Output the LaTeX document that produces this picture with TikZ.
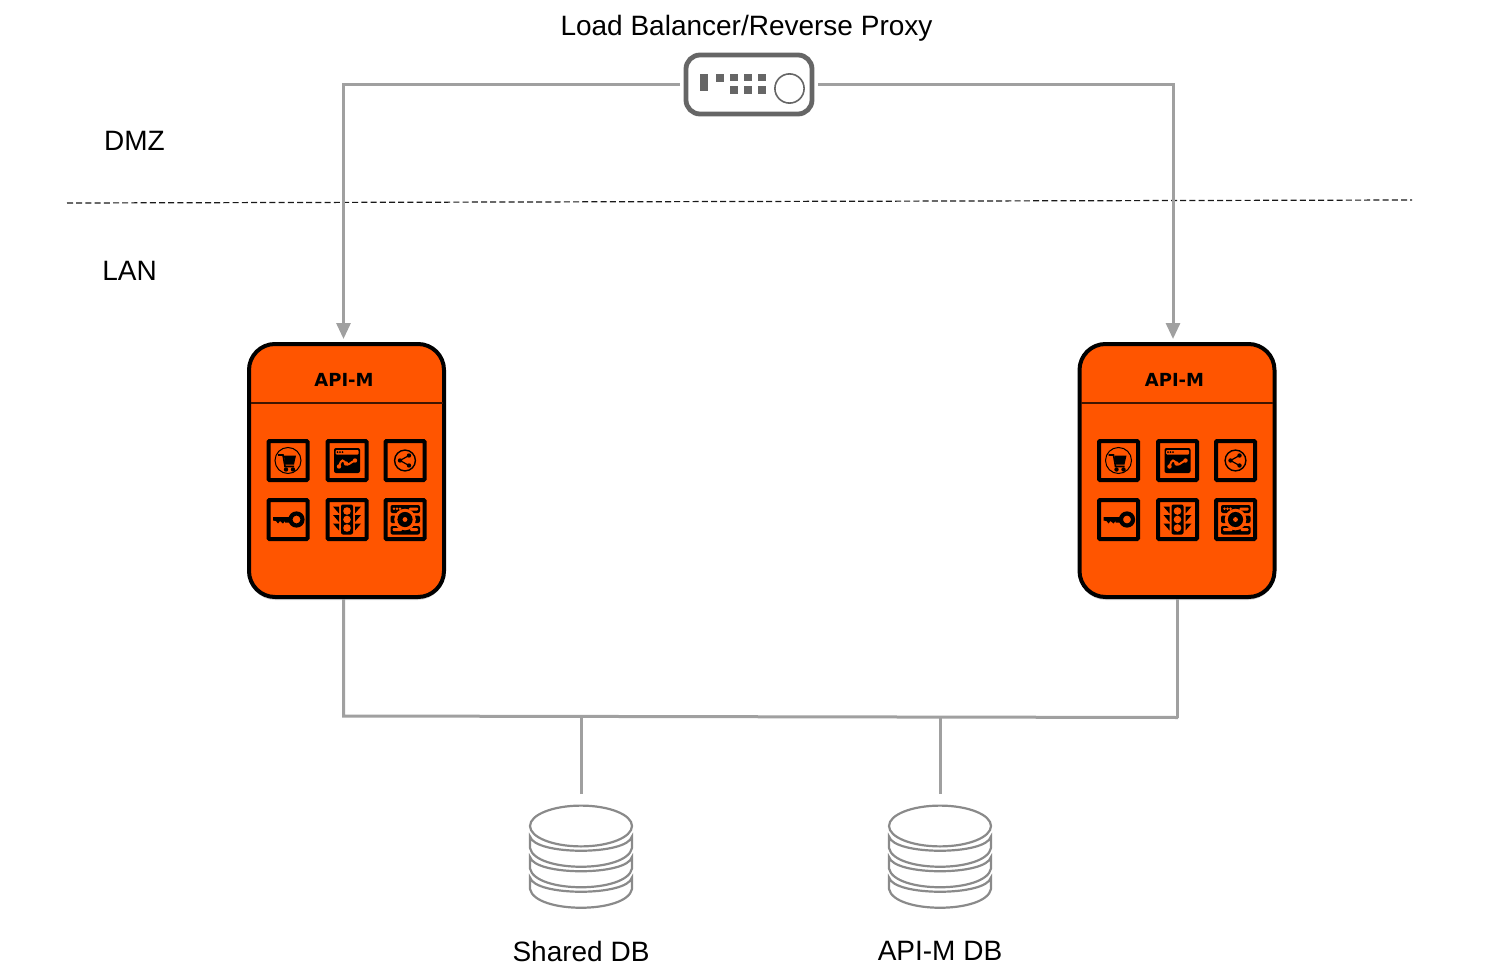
\documentclass[tikz,border=0pt]{standalone}
\usepackage{fontspec}
\setmainfont{Liberation Sans}
\newfontfamily\boxfont{DejaVu Sans}
\usetikzlibrary{
    arrows.meta,
    shadows,
    calc
}
\definecolor{apiorange}{HTML}{FF5500}
\definecolor{wiregray}{HTML}{A0A0A0}
\definecolor{dbgray}{HTML}{8A8A8A}
\definecolor{lbgray}{HTML}{666666}
\tikzset{
    label text/.style={font=\fontsize{14}{16}\selectfont, inner sep=0pt},
    wire/.style={draw=wiregray, line width=1.5pt},
    feed/.style={wire, -{Triangle[length=8pt,width=7pt]}},
    apibox/.style={draw=black, line width=2pt, fill=apiorange, rounded corners=13pt,
        minimum width=195pt/2, minimum height=253pt/2, outer sep=2.5pt, inner sep=0pt,
        drop shadow={opacity=.3, shadow xshift=0pt, shadow yshift=-1.5pt}},
    lbbox/.style={draw=lbgray, line width=2.4pt, rounded corners=7pt, fill=white,
        minimum width=63pt, minimum height=29.5pt, outer sep=3pt, inner sep=0pt},
    dbnode/.style={minimum width=51pt, minimum height=52pt, outer sep=5.5pt, inner sep=0pt},
    iconframe/.style={draw=black, line width=2pt, rounded corners=.5pt},
    dbline/.style={draw=dbgray, line width=1.1pt, fill=white},
    pics/iconcart/.style={code={
        \draw[black, line width=.5pt] (0,0) circle (6.5pt);
        \fill[black] (-4,-5) -- (8,-5) -- (6,4) -- (-3,4) -- cycle;
        \draw[black, line width=.8pt] (-10,-5.5) -- (-5,-5.5) -- (-3,6) -- (6,6);
        \fill[black] (-2,9) circle (1.1pt) (5,9) circle (1.1pt);
    }},
    pics/iconchart/.style={code={
        \fill[black, rounded corners=1pt] (-13,-12.5) rectangle (13,12.5);
        \fill[apiorange, rounded corners=.5pt] (-11.5,-10.5) rectangle (11.5,-6);
        \foreach \dx in {-9.5,-7,-4.5}
            \fill[black] (\dx,-8.3) circle (.5pt);
        \draw[apiorange, line width=1pt] (-8,6) .. controls (-5,-3) and (-4,0) .. (-1,3)
            .. controls (1,6) and (3,2) .. (8,0);
        \fill[apiorange] (-8,6) circle (1.1pt) (-1,3) circle (1.1pt) (8,0) circle (1.1pt);
    }},
    pics/iconshare/.style={code={
        \draw[black, line width=.7pt] (0,0) circle (5.2pt);
        \draw[black, line width=.6pt] (4,-5) -- (-5,0) -- (4,5);
        \fill[black] (-5,0) circle (1.1pt) (4,-5) circle (1.1pt) (4,5) circle (1.1pt);
    }},
    pics/iconkey/.style={code={
        \draw[black, line width=2.1pt] (8.5,0) circle (3pt);
        \fill[black] (-15,-2.5) -- (3,-2.5) -- (3,3) -- (-3,3) -- (-3,1.5) -- (-5,4) -- (-8,1.5) -- (-10,4)
            -- (-12,1.5) -- (-15,1) -- cycle;
    }},
    pics/iconlight/.style={code={
        \fill[black, rounded corners=1pt] (-6,-15) rectangle (6,15);
        \foreach \dy in {-8.5,0,8.5} {
            \fill[apiorange] (0,\dy) circle (1.9pt);
            \fill[black] (-8,\dy-4.5) -- (-14,\dy-4.5) -- (-8,\dy+2.5) -- cycle;
            \fill[black] (8,\dy-4.5) -- (14,\dy-4.5) -- (8,\dy+2.5) -- cycle;
        }
    }},
    pics/iconserver/.style={code={
        \fill[black, rounded corners=1pt] (-14.5,-14.5) rectangle (15,-6.5);
        \fill[black, rounded corners=1pt] (-14.5,6.5) rectangle (15,15);
        \fill[black, rounded corners=1pt] (-14.5,-4) rectangle (-8,3.5);
        \fill[black, rounded corners=1pt] (8.5,-4) rectangle (15,3.5);
        \foreach \dx in {-11,-8,-5}
            \fill[apiorange] (\dx,-10.7) circle (.7pt);
        \fill[apiorange, rounded corners=.5pt] (4,-12) rectangle (13,-9);
        \fill[apiorange, rounded corners=.5pt] (-12.5,8.7) rectangle (-3,11.5);
        \fill[apiorange, rounded corners=.5pt] (5,8.7) rectangle (13,11.5);
        \fill[apiorange] (0,0) circle (5.4pt);
        \fill[black] (0,0) circle (3.8pt);
        \fill[apiorange] (0,0) circle (1.2pt);
    }},
    pics/apiface/.style={code={
        \node[font=\boxfont\bfseries\fontsize{9}{10}\selectfont, inner sep=0pt] (title) at (-2.5,-90.5) {API-M};
        \draw[black!75!apiorange, line width=.6pt] (-96,-67.5) -- (96,-67.5);
        \foreach \ix/\iy/\ic in {-58.5/-10/iconcart, 0.5/-10/iconchart, 58.5/-10/iconshare,
                                 -58.5/49/iconkey, 0.5/49/iconlight, 58.5/49/iconserver} {
            \draw[iconframe] (\ix-19.5,\iy-19.5) rectangle (\ix+19.5,\iy+19.5);
            \pic at (\ix,\iy) {\ic};
        }
    }},
    pics/lbface/.style={code={
        \fill[lbgray] (-49.5,-10.5) rectangle (-41.5,7);
        \fill[lbgray] (-33.5,-10.5) rectangle (-25.5,-2.5);
        \foreach \ix in {-19,-5,9} {
            \fill[lbgray] (\ix,-10.5) rectangle (\ix+7.5,-3);
            \fill[lbgray] (\ix,2) rectangle (\ix+7.5,9.5);
        }
        \draw[lbgray, line width=.8pt] (40.5,4) circle (7.3pt);
    }},
    pics/dbface/.style={code={
        \foreach \dy in {0,20.5,41}
            \draw[dbline] (-51,-20.5+\dy) .. controls (-46,-1.5+\dy) and (46,-1.5+\dy) .. (51,-20.5+\dy)
                -- (51,-9+\dy) .. controls (46,16+\dy) and (-46,16+\dy) .. (-51,-9+\dy) -- cycle;
        \draw[dbline] (0,-31) ellipse (25.5pt and 10.2pt);
    }}
}
\begin{document}
\begin{tikzpicture}[x=0.5pt, y=-0.5pt]
    \useasboundingbox (0, 0) rectangle (1500, 979);

    \node[label text] (lbtext) at (746.5, 28.5) {Load Balancer/Reverse Proxy};
    \node[label text] (dmz) at (134.5, 140.5) {DMZ};
    \node[label text] (lan) at (129.5, 270.5) {LAN};

    \node[lbbox] (lb) at (749, 84.5) {};
    \pic at (lb) {lbface};

    \node[apibox] (apil) at (346.5, 470.5) {};
    \node[apibox] (apir) at (1177, 470.5) {};
    \pic at (apil) {apiface};
    \pic at (apir) {apiface};

    \node[dbnode] (sdb) at (581, 857) {};
    \node[dbnode] (adb) at (940, 857) {};
    \pic at (sdb) {dbface};
    \pic at (adb) {dbface};
    \node[label text] (sdbtext) at (581, 951) {Shared DB};
    \node[label text] (adbtext) at (940, 951) {API-M DB};

    \coordinate (zonel) at (67, 203);
    \coordinate (zoner) at (1412, 200);
    \coordinate (busl) at (343.5, 716);
    \coordinate (busr) at (1178, 717.5);

    \draw[black!90, line width=.6pt, dash pattern=on 3pt off 1.6pt] (zonel) -- (zoner);

    \draw[feed] (lb.west) -| ([xshift=-1.5pt]apil.north);
    \draw[feed] (lb.east) -| ([xshift=-2pt]apir.north);
    \draw[wire] ([xshift=-1.5pt,yshift=1.5pt]apil.south) -- (busl) -- (busr);
    \draw[wire] ([yshift=1.5pt]apir.south) -- (apir.south |- busr);
    \draw[wire] (sdb.north) -- (sdb.north |- busl);
    \draw[wire] (adb.north) -- (adb.north |- busl);
\end{tikzpicture}
\end{document}
